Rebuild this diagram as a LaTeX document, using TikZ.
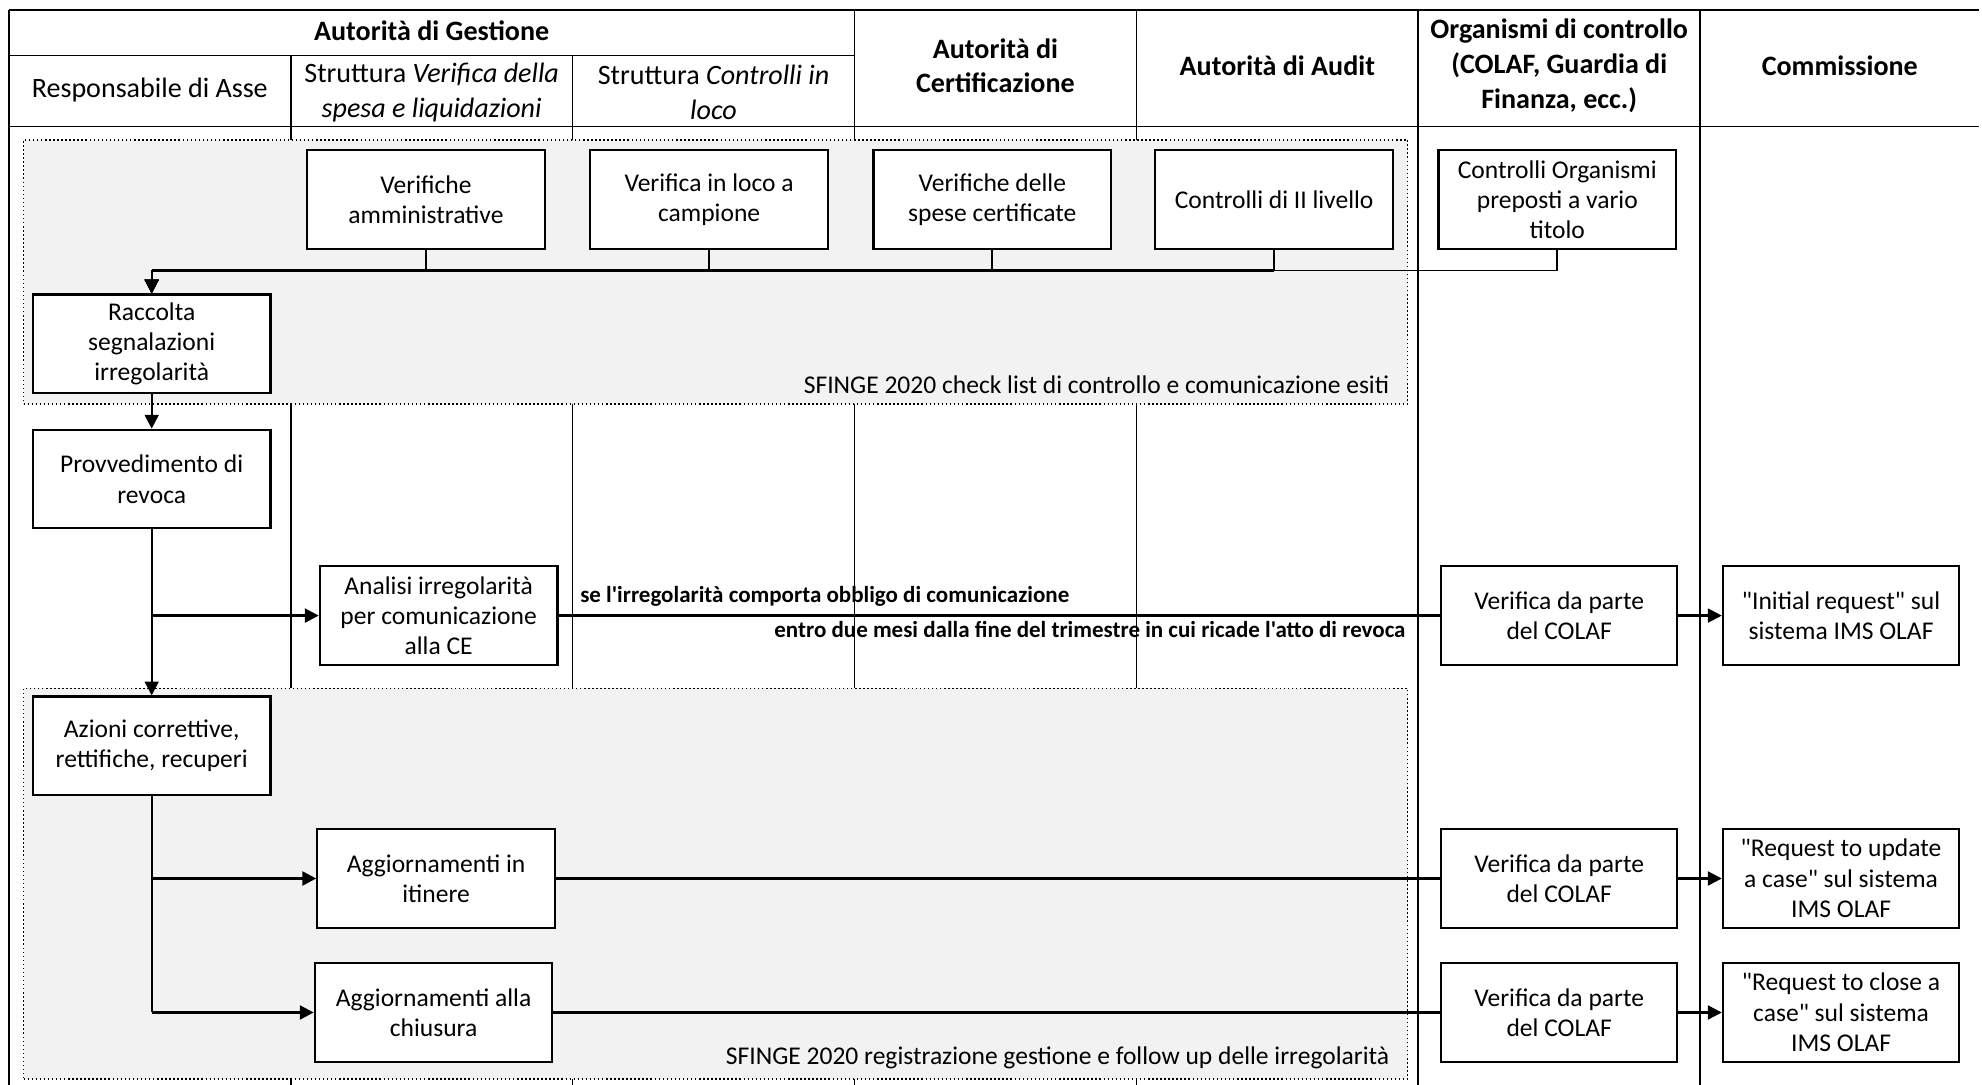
\documentclass[tikz,border=0pt]{standalone}
\usepackage{fontspec}
\setmainfont{Carlito}[Ligatures=TeXOff]
\usetikzlibrary{arrows.meta}
\begin{document}
\begin{tikzpicture}[x=1pt,y=-1pt,
  every node/.style={inner sep=0pt},
  fnorm/.style={font=\fontsize{20.2}{24}\selectfont},
  box/.style={draw, line width=1.7pt, fill=white, minimum width=188pt, minimum height=78pt, align=center, fnorm},
  hdr/.style={align=center, font=\fontsize{22.2}{27.5}\selectfont},
  hdrb/.style={align=center, font=\fontsize{22.2}{27.5}\selectfont\bfseries},
  tbl/.style={line width=1.3pt},
  region/.style={draw, dotted, line width=1.2pt, fill=black!5},
  conn/.style={line width=1.8pt},
  arr/.style={conn, -{Triangle[length=11pt,width=11pt]}},
  sfl/.style={font=\fontsize{20.2}{22}\selectfont, anchor=east},
  bl/.style={font=\fontsize{18.2}{20}\selectfont\bfseries},
]
\useasboundingbox (0,0) rectangle (1568,858);
% table
\draw[tbl] (7,8) -- (1566,8);
\draw[tbl] (7,44) -- (676,44);
\draw[tbl] (7,100) -- (1566,100);
\draw[tbl] (7,8) -- (7,858);
\foreach \x in {230,453} \draw[tbl] (\x,44) -- (\x,858);
\foreach \x in {676,899,1122,1345} \draw[tbl] (\x,8) -- (\x,858);
% headers
\node[hdrb] (hg) at (341.5,24) {Autorità di Gestione};
\node[hdr] (h1) at (118.5,71) {Responsabile di Asse};
\node[hdr] (h2) at (341.5,73) {Struttura \textit{Verifica della}\\\textit{spesa e liquidazioni}};
\node[hdr] (h3) at (564.5,73) {Struttura \textit{Controlli in}\\\textit{loco}};
\node[hdrb] (h4) at (787.5,52) {Autorità di\\Certificazione};
\node[hdrb] (h5) at (1010.5,52) {Autorità di Audit};
\node[hdrb] (h6) at (1233.5,52) {Organismi di controllo\\(COLAF, Guardia di\\Finanza, ecc.)};
\node[hdrb] (h7) at (1455.5,52) {Commissione};
% regions
\node[region, minimum width=1095pt, minimum height=209pt, anchor=north west] (reg1) at (18,110) {};
\node[region, minimum width=1095pt, minimum height=309pt, anchor=north west] (reg2) at (18,544) {};
\node[sfl] (s1) at ([xshift=-15pt,yshift=16pt]reg1.south east) {SFINGE 2020 check list di controllo e comunicazione esiti};
\node[sfl] (s2) at ([xshift=-15pt,yshift=17pt]reg2.south east) {SFINGE 2020 registrazione gestione e follow up delle irregolarità};
% boxes
\node[box] (va) at (337,158) {Verifiche\\amministrative};
\node[box] (vl) at (561,158) {Verifica in loco a\\campione};
\node[box] (vs) at (785,158) {Verifiche delle\\spese certificate};
\node[box] (c2) at (1008,158) {Controlli di II livello};
\node[box] (co) at (1232,158) {Controlli Organismi\\preposti a vario\\titolo};
\node[box] (racc) at (120,272) {Raccolta\\segnalazioni\\irregolarità};
\node[box] (prov) at (120,379) {Provvedimento di\\revoca};
\node[box] (an) at (347,487) {Analisi irregolarità\\per comunicazione\\alla CE};
\node[box] (az) at (120,590) {Azioni correttive,\\rettifiche, recuperi};
\node[box] (ag1) at (345,695) {Aggiornamenti in\\itinere};
\node[box] (ag2) at (343,801) {Aggiornamenti alla\\chiusura};
\node[box, minimum width=187pt] (col1) at (1233.5,487) {Verifica da parte\\del COLAF};
\node[box, minimum width=187pt] (col2) at (1233.5,695) {Verifica da parte\\del COLAF};
\node[box, minimum width=187pt] (col3) at (1233.5,801) {Verifica da parte\\del COLAF};
\node[box, minimum width=187pt] (ir) at (1456.5,487) {"Initial request" sul\\sistema IMS OLAF};
\node[box, minimum width=187pt] (ru) at (1456.5,695) {"Request to update\\a case" sul sistema\\IMS OLAF};
\node[box, minimum width=187pt] (rc) at (1456.5,801) {"Request to close a\\case" sul sistema\\IMS OLAF};
% connectors
\coordinate (bus) at (0,214);
\foreach \n in {va,vl,vs,c2,co}
  \draw[arr, line width=1.5pt] (\n.south) -- (\n.south |- bus) -| (racc.north);
\draw[line width=2.8pt] (racc.north |- bus) -- (c2.south |- bus);
\draw[arr] (racc) -- (prov);
\draw[arr] (prov) -- (az);
\draw[arr, line width=2.2pt] (prov.south |- an.west) -- (an.west);
\draw[conn] (an) -- (col1);
\draw[arr] (col1) -- (ir);
\draw[conn] (az.south) -- (az.south |- ag2.west);
\draw[arr, line width=2.2pt] (az.south |- ag1.west) -- (ag1.west);
\draw[arr, line width=2.2pt] (az.south |- ag2.west) -- (ag2.west);
\draw[conn] (ag1) -- (col2);
\draw[conn] (ag2) -- (col3);
\draw[arr] (col2) -- (ru);
\draw[arr] (col3) -- (rc);
% labels
\node[bl, anchor=west] (lab1) at ([xshift=17pt,yshift=15pt]an.east) {se l'irregolarità comporta obbligo di comunicazione};
\node[bl, anchor=east] (lab2) at ([xshift=-27pt,yshift=-11pt]col1.west) {entro due mesi dalla fine del trimestre in cui ricade l'atto di revoca};
\end{tikzpicture}
\end{document}
